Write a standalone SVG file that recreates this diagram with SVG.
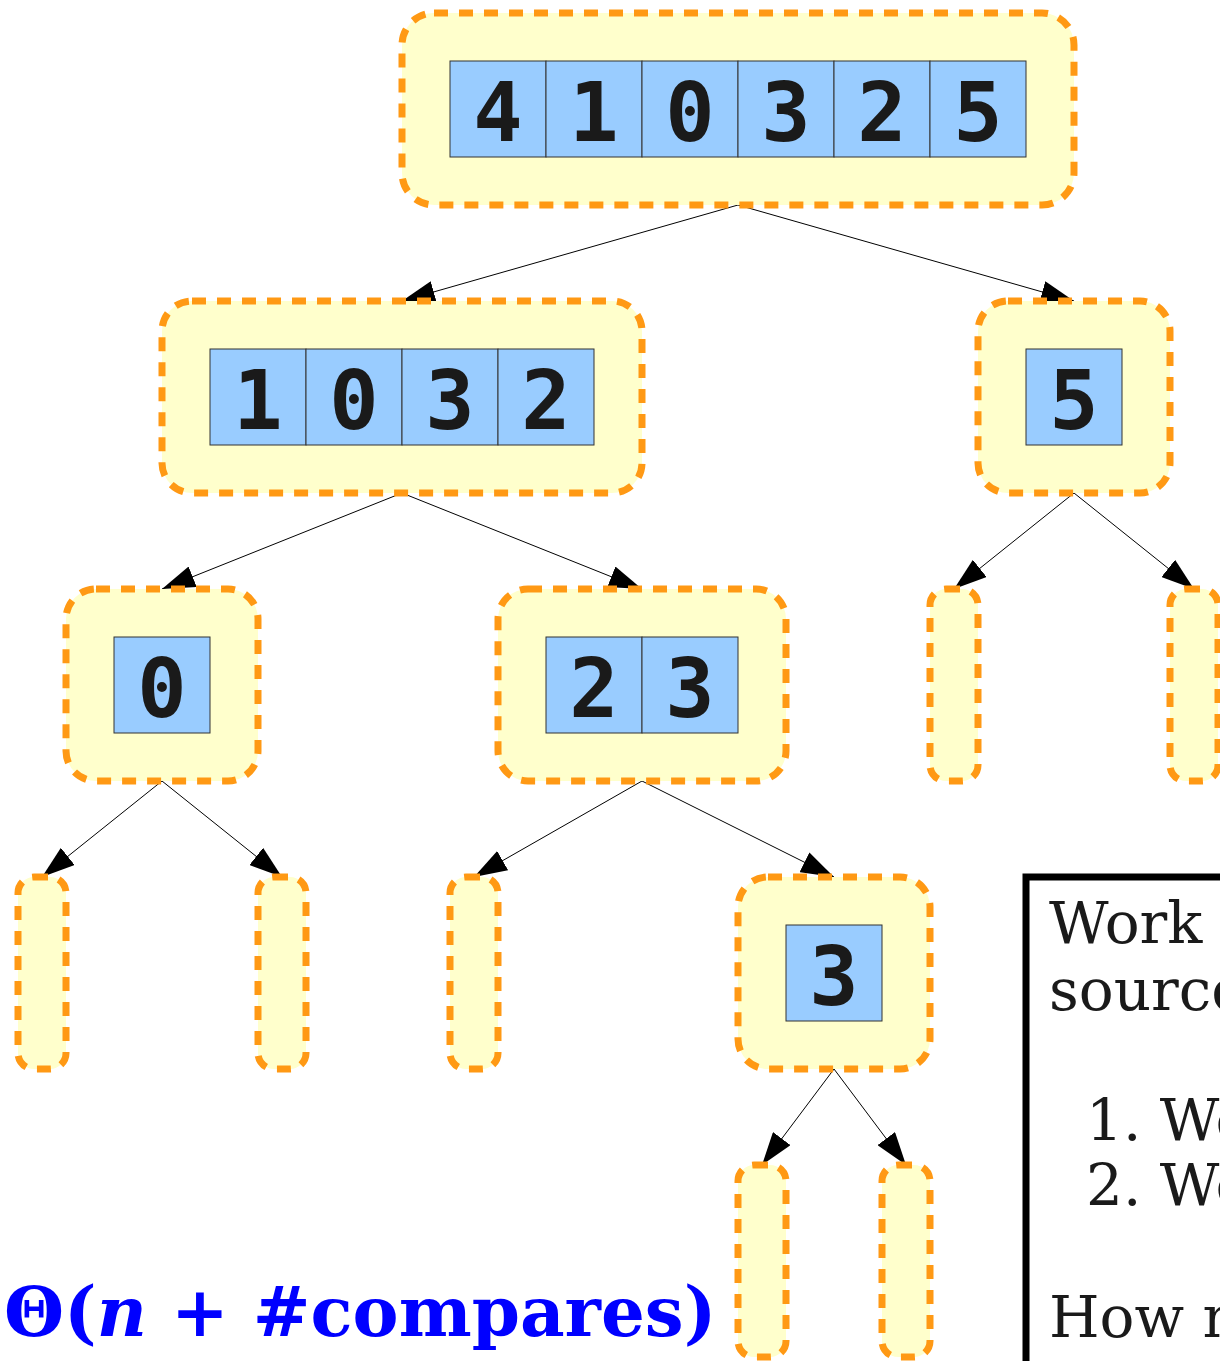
<svg xmlns="http://www.w3.org/2000/svg" width="1220" height="1361" viewBox="0 0 1220 1361">
  <style>
    .node { fill: #FFFFCC; stroke: #FF9914; stroke-width: 7; stroke-dasharray: 14 11; }
    .cell { fill: #99CCFF; stroke: #333333; stroke-width: 1; }
    .digit { font-family: "DejaVu Sans Mono", "Liberation Mono", monospace; font-weight: bold; font-size: 82px; fill: #1a1a1a; text-anchor: middle; }
    .edge { stroke: #000000; stroke-width: 1; fill: none; marker-end: url(#arrow); }
    .note { font-family: "DejaVu Serif", "Liberation Serif", serif; font-size: 58px; fill: #1a1a1a; }
    .cost { font-family: "DejaVu Serif", "Liberation Serif", serif; font-weight: bold; font-size: 69px; fill: #0000FF; }
  </style>
  <defs>
    <marker id="arrow" markerUnits="userSpaceOnUse" markerWidth="34" markerHeight="22" refX="33" refY="11" orient="auto">
      <path d="M0,0 L33,11 L0,22 z" fill="#000000"/>
    </marker>
  </defs>
  <rect width="1220" height="1361" fill="#ffffff"/>

  <!-- recursion edges: parent bottom centre to child top centre -->
  <g id="edges">
    <line class="edge" x1="738" y1="205" x2="402" y2="301"/>
    <line class="edge" x1="738" y1="205" x2="1074" y2="301"/>
    <line class="edge" x1="402" y1="493" x2="162" y2="589"/>
    <line class="edge" x1="402" y1="493" x2="642" y2="589"/>
    <line class="edge" x1="1074" y1="493" x2="954" y2="589"/>
    <line class="edge" x1="1074" y1="493" x2="1194" y2="589"/>
    <line class="edge" x1="162" y1="781" x2="42" y2="877"/>
    <line class="edge" x1="162" y1="781" x2="282" y2="877"/>
    <line class="edge" x1="642" y1="781" x2="474" y2="877"/>
    <line class="edge" x1="642" y1="781" x2="834" y2="877"/>
    <line class="edge" x1="834" y1="1069" x2="762" y2="1165"/>
    <line class="edge" x1="834" y1="1069" x2="906" y2="1165"/>
  </g>

  <!-- level 0 -->
  <g id="n-410325">
    <rect class="node" x="402" y="13" width="672" height="192" rx="32"/>
    <rect class="cell" x="450" y="61" width="96" height="96"/>
    <rect class="cell" x="546" y="61" width="96" height="96"/>
    <rect class="cell" x="642" y="61" width="96" height="96"/>
    <rect class="cell" x="738" y="61" width="96" height="96"/>
    <rect class="cell" x="834" y="61" width="96" height="96"/>
    <rect class="cell" x="930" y="61" width="96" height="96"/>
    <text class="digit" x="498" y="141">4</text>
    <text class="digit" x="594" y="141">1</text>
    <text class="digit" x="690" y="141">0</text>
    <text class="digit" x="786" y="141">3</text>
    <text class="digit" x="882" y="141">2</text>
    <text class="digit" x="978" y="141">5</text>
  </g>

  <!-- level 1 -->
  <g id="n-1032">
    <rect class="node" x="162" y="301" width="480" height="192" rx="30"/>
    <rect class="cell" x="210" y="349" width="96" height="96"/>
    <rect class="cell" x="306" y="349" width="96" height="96"/>
    <rect class="cell" x="402" y="349" width="96" height="96"/>
    <rect class="cell" x="498" y="349" width="96" height="96"/>
    <text class="digit" x="258" y="429">1</text>
    <text class="digit" x="354" y="429">0</text>
    <text class="digit" x="450" y="429">3</text>
    <text class="digit" x="546" y="429">2</text>
  </g>
  <g id="n-5">
    <rect class="node" x="978" y="301" width="192" height="192" rx="30"/>
    <rect class="cell" x="1026" y="349" width="96" height="96"/>
    <text class="digit" x="1074" y="429">5</text>
  </g>

  <!-- level 2 -->
  <g id="n-0">
    <rect class="node" x="66" y="589" width="192" height="192" rx="30"/>
    <rect class="cell" x="114" y="637" width="96" height="96"/>
    <text class="digit" x="162" y="717">0</text>
  </g>
  <g id="n-23">
    <rect class="node" x="498" y="589" width="288" height="192" rx="30"/>
    <rect class="cell" x="546" y="637" width="96" height="96"/>
    <rect class="cell" x="642" y="637" width="96" height="96"/>
    <text class="digit" x="594" y="717">2</text>
    <text class="digit" x="690" y="717">3</text>
  </g>
  <g id="n-empty-a">
    <rect class="node" x="930" y="589" width="48" height="192" rx="16"/>
  </g>
  <g id="n-empty-b">
    <rect class="node" x="1170" y="589" width="48" height="192" rx="16"/>
  </g>

  <!-- level 3 -->
  <g id="n-empty-c">
    <rect class="node" x="18" y="877" width="48" height="192" rx="16"/>
  </g>
  <g id="n-empty-d">
    <rect class="node" x="258" y="877" width="48" height="192" rx="16"/>
  </g>
  <g id="n-empty-e">
    <rect class="node" x="450" y="877" width="48" height="192" rx="16"/>
  </g>
  <g id="n-3">
    <rect class="node" x="738" y="877" width="192" height="192" rx="30"/>
    <rect class="cell" x="786" y="925" width="96" height="96"/>
    <text class="digit" x="834" y="1005">3</text>
  </g>

  <!-- level 4 -->
  <g id="n-empty-f">
    <rect class="node" x="738" y="1165" width="48" height="192" rx="16"/>
  </g>
  <g id="n-empty-g">
    <rect class="node" x="882" y="1165" width="48" height="192" rx="16"/>
  </g>

  <!-- explanation panel, running past the right edge -->
  <g id="note">
    <rect x="1026" y="877" width="400" height="600" fill="#ffffff" stroke="#000000" stroke-width="7"/>
    <text class="note" x="1049" y="943">Work comes from two</text>
    <text class="note" x="1049" y="1010">sources:</text>
    <text class="note" x="1086" y="1140">1. Work</text>
    <text class="note" x="1086" y="1205">2. Work</text>
    <text class="note" x="1049" y="1337">How many</text>
  </g>

  <!-- total cost -->
  <g id="cost">
    <text class="cost" x="4" y="1336">Θ(<tspan font-style="italic">n</tspan> + #compares)</text>
  </g>
</svg>
